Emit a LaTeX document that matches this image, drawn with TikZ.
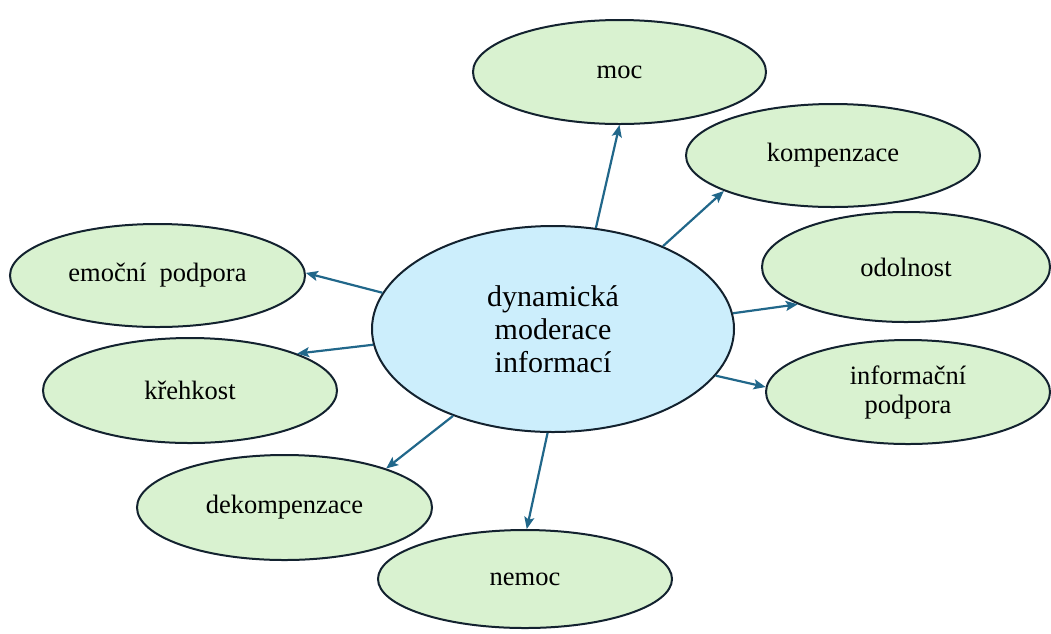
\documentclass[tikz,border=0pt]{standalone}
\usepackage{fontspec}
\setmainfont{Liberation Serif}
\usetikzlibrary{shapes.geometric,arrows.meta}
\definecolor{bordc}{HTML}{13222F}
\definecolor{arrc}{HTML}{21678A}
\definecolor{hubfill}{HTML}{CCEEFC}
\definecolor{leaffill}{HTML}{D9F2D0}
\begin{document}
\begin{tikzpicture}[x=1pt,y=-1pt,
  hub/.style={ellipse,draw=bordc,line width=2pt,fill=hubfill,inner sep=0pt,
    minimum width=362pt,minimum height=206pt,align=center,
    font=\fontsize{30}{33}\selectfont},
  leaf/.style={ellipse,draw=bordc,line width=2pt,fill=leaffill,inner sep=0pt,
    align=center,font=\fontsize{26.5}{29}\selectfont},
  conn/.style={draw=arrc,line width=2.2pt,-{Stealth[length=12pt,width=10pt,inset=2.5pt]}}]
\useasboundingbox (0,0) rectangle (1051,633);
\node[hub] (c) at (553,329) {dynamická\\moderace\\informací};
\node[leaf,minimum width=293pt,minimum height=104pt] (moc) at (619.5,72) {moc};
\node[leaf,minimum width=294pt,minimum height=103pt] (komp) at (833,155.5) {kompenzace};
\node[leaf,minimum width=288pt,minimum height=110pt] (odol) at (906,267) {odolnost};
\node[leaf,minimum width=284pt,minimum height=104pt] (info) at (908,392) {informační\\podpora};
\node[leaf,minimum width=295pt,minimum height=103pt] (emoc) at (157.5,275.5) {emoční\ \ podpora};
\node[leaf,minimum width=294pt,minimum height=105pt] (kreh) at (190,390.5) {křehkost};
\node[leaf,minimum width=295pt,minimum height=105pt] (dekomp) at (284.5,507.5) {dekompenzace};
\node[leaf,minimum width=294pt,minimum height=98pt] (nemoc) at (525,579) {nemoc};
\draw[conn] (c.67.1) -- (moc.270);
\draw[conn] (c.37.6) -- (komp.198.7);
\draw[conn] (c.5.4) -- (odol.199.4);
\draw[conn] (c.-16.1) -- (info.178.4);
\draw[conn] (c.168.1) -- (emoc.1);
\draw[conn] (c.185.5) -- (kreh.19.5);
\draw[conn] (c.221.5) -- (dekomp.21.4);
\draw[conn] (c.267.7) -- (nemoc.88);
\end{tikzpicture}
\end{document}
